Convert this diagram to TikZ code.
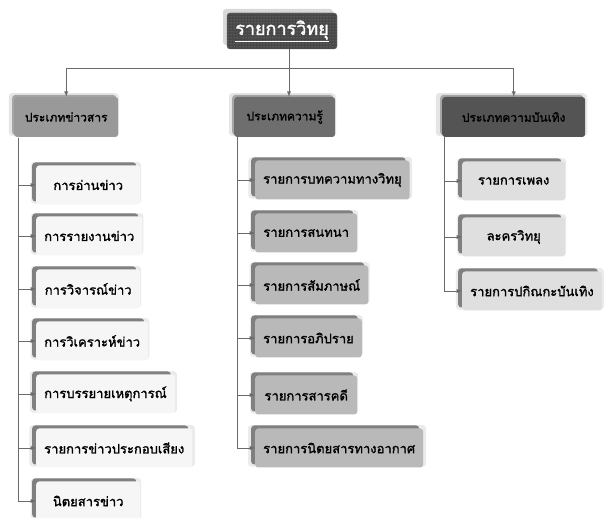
\documentclass[tikz,border=0pt]{standalone}
\usepackage{fontspec}
\newfontfamily\thaifont[Script=Thai, AutoFakeBold=1.5]{Loma}
\usetikzlibrary{%
	calc,%
	arrows,%
	shadows,%
	patterns
}
\definecolor{linegray}{HTML}{6A6A6A}
\definecolor{newsfill}{HTML}{F6F6F6}
\definecolor{knowfill}{HTML}{B9B9B9}
\definecolor{funfill}{HTML}{DFDFDF}
\tikzstyle{line}=[draw=linegray, line width=0.9pt]
\tikzset{
	box/.style={rectangle, rounded corners=3pt, minimum height=39pt, anchor=west,
		inner xsep=8pt, font=\thaifont\bfseries\fontsize{13}{15}\selectfont,
		general shadow={fill=black!8, shadow xshift=-2pt, shadow yshift=2pt, shadow scale=1.06},
		general shadow={fill=black!50, shadow xshift=-4pt, shadow yshift=3pt}},
	catbox/.style={box, minimum height=40pt, font=\thaifont\bfseries\fontsize{12}{14}\selectfont,
		general shadow={fill=black!10, shadow xshift=-3pt, shadow yshift=3pt, shadow scale=1.04},
		general shadow={fill=black!35, shadow xshift=-2pt, shadow yshift=2pt}},
	newsbox/.style={box, fill=newsfill, minimum width=104pt},
	knowbox/.style={box, fill=knowfill, minimum width=102pt},
	funbox/.style={box, fill=funfill, minimum width=103pt}
}

\begin{document}
\begin{tikzpicture}[x=1pt, y=-1pt, >=latex]
	\useasboundingbox[fill=white] (0,0) rectangle (606,518);

	% root
	\node[rectangle, rounded corners=3pt, minimum width=110pt, minimum height=36pt,
		fill=black!72, postaction={pattern=dots, pattern color=gray!80}, draw=black!60,
		general shadow={fill=black!15, shadow xshift=-4pt, shadow yshift=4pt},
		text=white, font=\thaifont\bfseries\fontsize{18}{20}\selectfont] (root) at (282,31) {\underline{รายการวิทยุ}};

	% categories
	\node[catbox, fill=black!40, minimum width=104pt] (cat1) at (14,117) {ประเภทข่าวสาร};
	\node[catbox, fill=black!57, minimum width=101pt] (cat2) at (234,117) {ประเภทความรู้};
	\node[catbox, fill=black!67, minimum width=143pt] (cat3) at (442,117) {ประเภทความบันเทิง};

	\coordinate (hub) at (289,68);
	\draw[line] (root.south -| hub) -- (hub);
	\draw[line,->] (hub) -| (cat1.north);
	\draw[line,->] (hub) -- (cat2.north -| hub);
	\draw[line,->] (hub) -| (cat3.north);

	% trunks
	\coordinate (t1) at (18,138);
	\coordinate (t2) at (237,137);
	\coordinate (t3) at (444,137);

	% news
	\foreach \i/\y/\txt in {1/185/การอ่านข่าว, 2/236/การรายงานข่าว, 3/289/การวิจารณ์ข่าว,
		4/341/การวิเคราะห์ข่าว, 5/394/การบรรยายเหตุการณ์, 6/448/รายการข่าวประกอบเสียง, 7/501/นิตยสารข่าว}
	{
		\node[newsbox] (n\i) at (36,\y) {\txt};
		\draw[line,->] (t1) |- (n\i.west);
	}

	% knowledge
	\foreach \i/\y/\txt in {1/180/รายการบทความทางวิทยุ, 2/233/รายการสนทนา, 3/285/รายการสัมภาษณ์,
		4/338/รายการอภิปราย, 5/395/รายการสารคดี, 6/448/รายการนิตยสารทางอากาศ}
	{
		\node[knowbox] (k\i) at (255,\y) {\txt};
		\draw[line,->] (t2) |- (k\i.west);
	}

	% entertainment
	\foreach \i/\y/\txt in {1/181/รายการเพลง, 2/237/ละครวิทยุ, 3/291/รายการปกิณกะบันเทิง}
	{
		\node[funbox] (f\i) at (462,\y) {\txt};
		\draw[line,->] (t3) |- (f\i.west);
	}
\end{tikzpicture}
\end{document}
